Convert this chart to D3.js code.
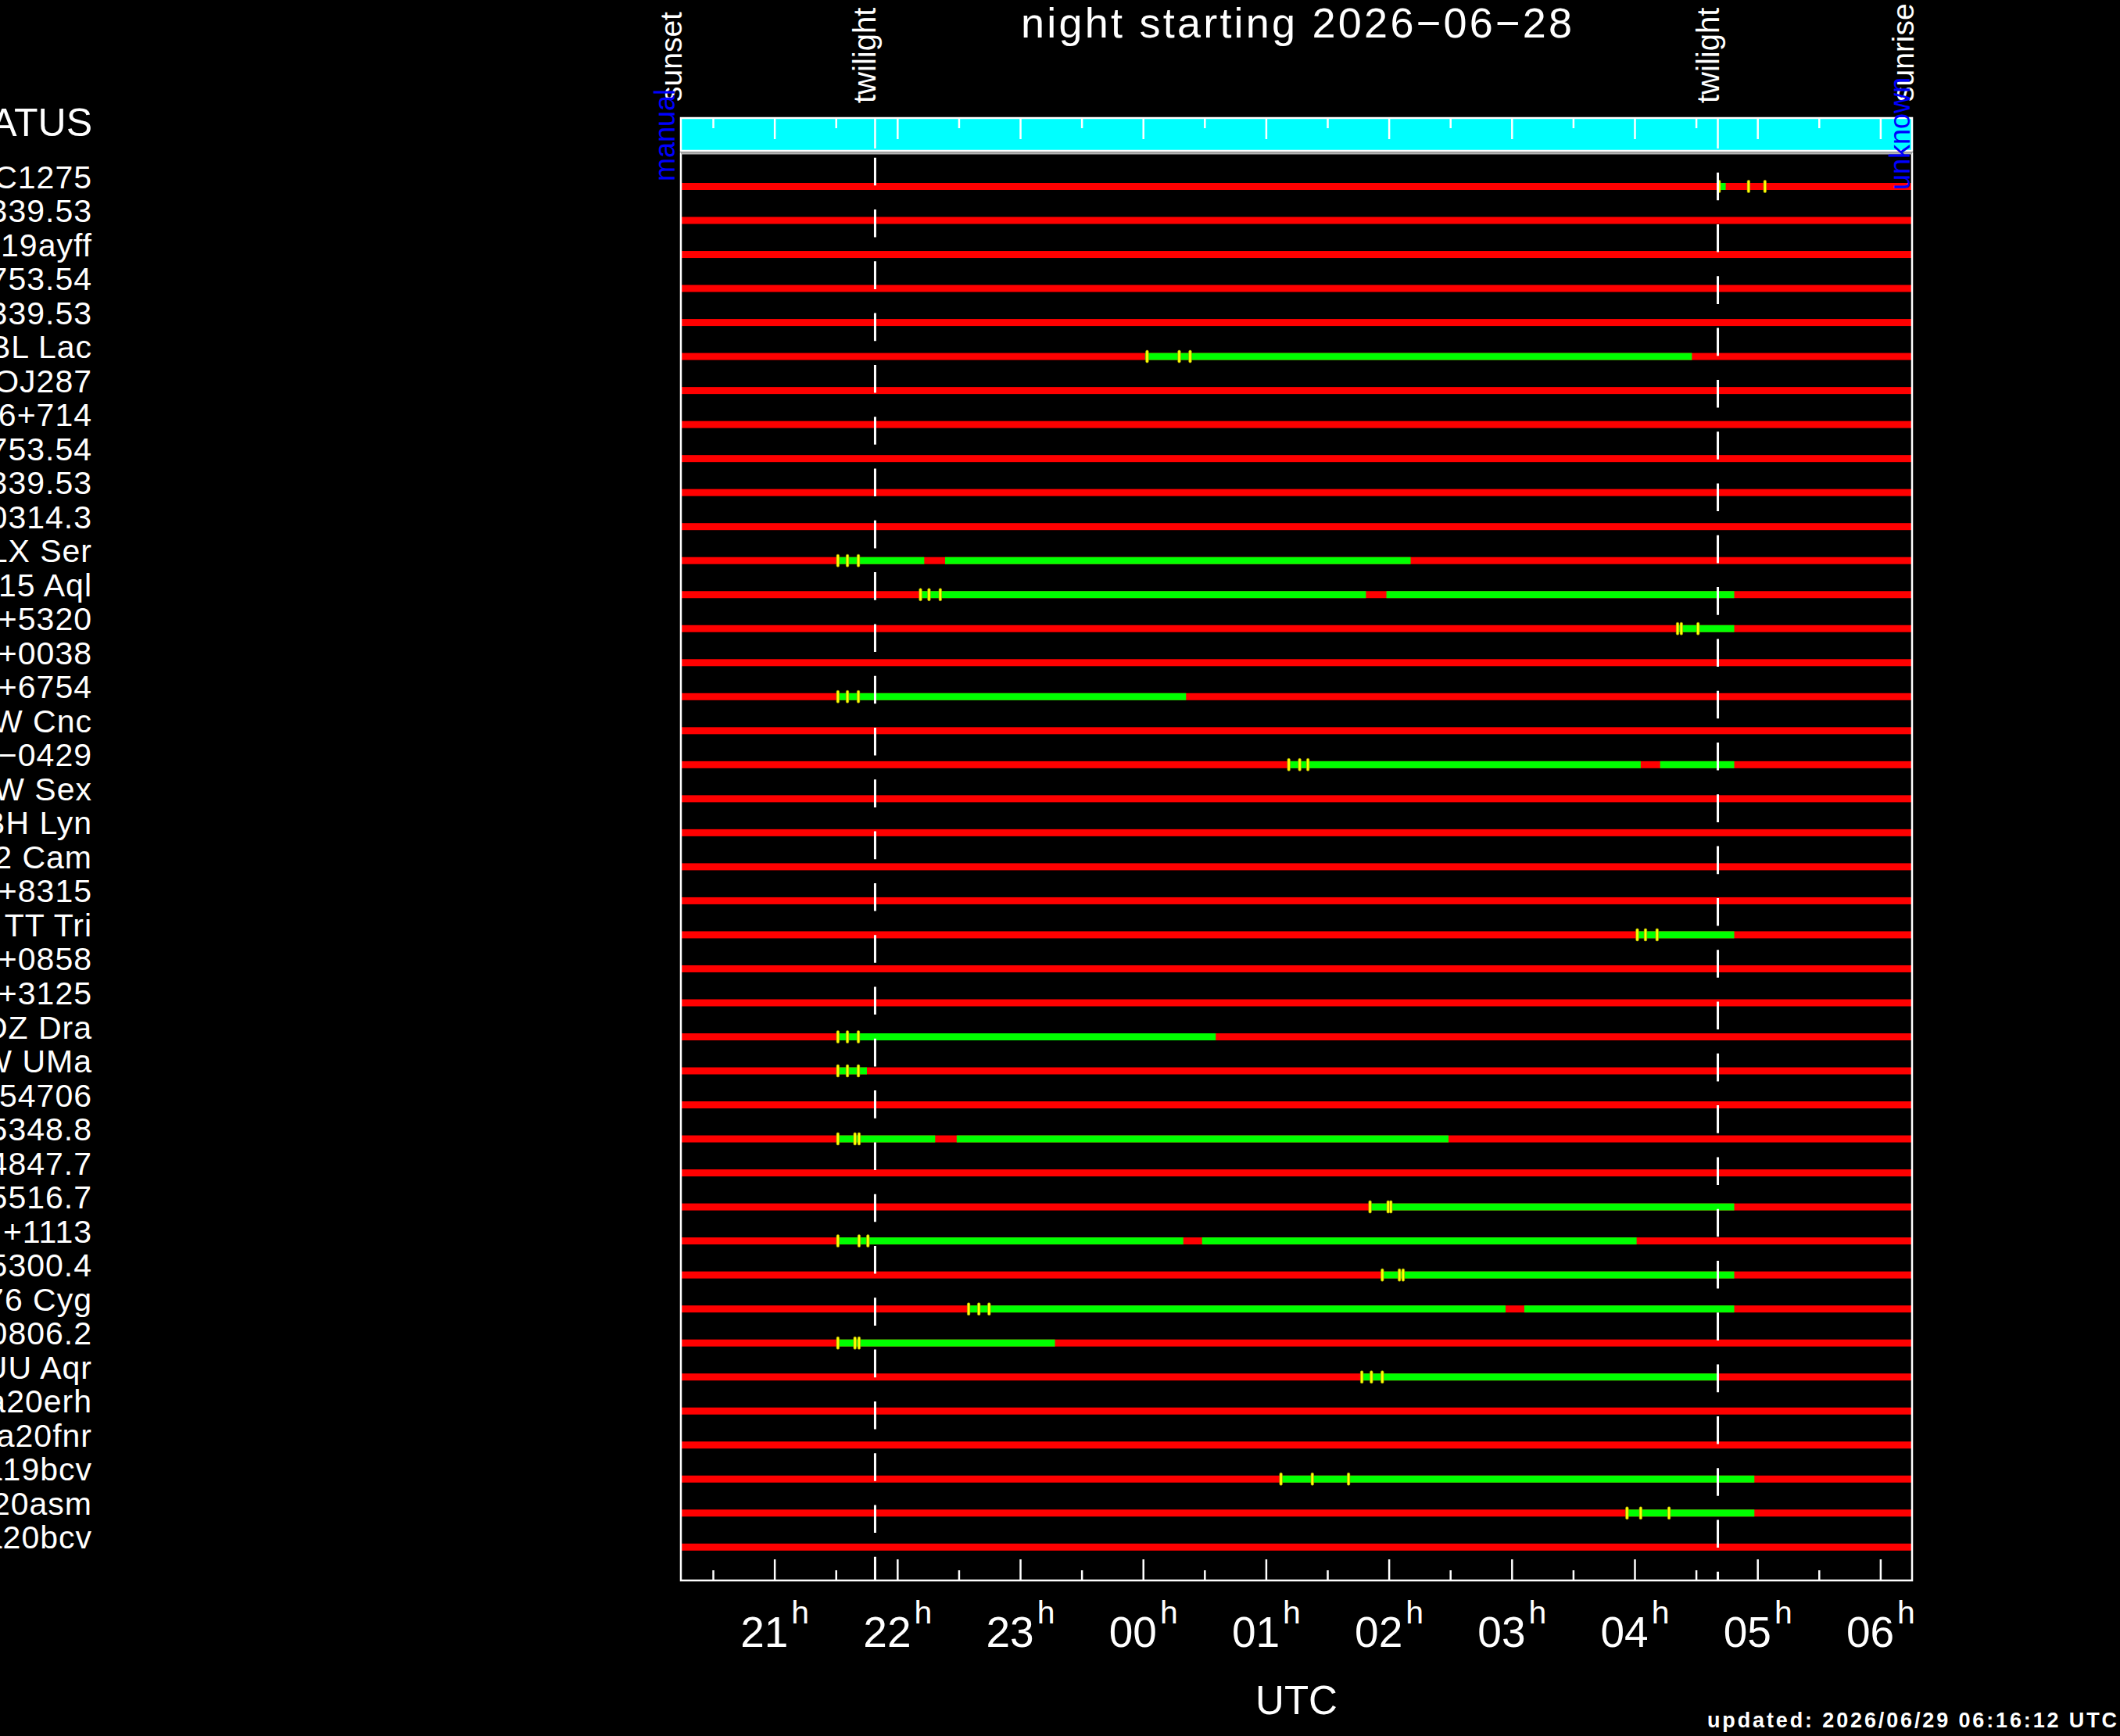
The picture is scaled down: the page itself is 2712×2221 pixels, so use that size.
<!DOCTYPE html>
<html>
<head>
<meta charset="utf-8">
<script src="https://cdn.jsdelivr.net/npm/d3@7"></script>
<style>
  body { margin: 0; background: #000; }
  svg text { font-family: "Liberation Sans", Arial, sans-serif; fill: #fff; }
</style>
</head>
<body>
<svg id="chart" width="2712" height="2221"></svg>
<script>
// night and sun times (UTC)
const nightStart = "2026-06-28";
const sunset = "20:14:20";
const sunrise = "06:15:30";
const twilights = ["21:49:10", "04:40:40"];
const updated = "updated: 2026/06/29 06:16:12 UTC";

// target names, as far as they show on the left edge
const targets = ["C1275", "339.53", "19ayff", "753.54", "339.53", "BL Lac", "OJ287", "6+714",
  "753.54", "339.53", "0314.3", "LX Ser", "15 Aql", "+5320", "+0038", "+6754", "W Cnc",
  "\u22120429", "W Sex", "BH Lyn", "2 Cam", "+8315", "TT Tri", "+0858", "+3125", "DZ Dra",
  "W UMa", "54706", "5348.8", "4847.7", "5516.7", "+1113", "5300.4", "76 Cyg", "0806.2",
  "UU Aqr", "a20erh", "a20fnr", "a19bcv", "20asm", "a20bcv"];

// observable windows (green) per target, [start, end]
const windows = [
  [["04:41:20", "04:44:30"]],                           // C1275
  [], [], [], [],
  [["00:01:00", "04:28:00"]],                           // BL Lac
  [], [], [], [], [],
  [["21:30:20", "22:13:10"], ["22:23:20", "02:10:40"]], // LX Ser
  [["22:11:00", "01:48:50"], ["01:58:50", "04:48:40"]], // 15 Aql
  [["04:20:40", "04:48:40"]],                           // +5320
  [],
  [["21:30:20", "00:21:00"]],                           // +6754
  [],
  [["01:10:30", "04:03:00"], ["04:12:30", "04:48:40"]], // -0429
  [], [], [], [],
  [["04:01:00", "04:48:40"]],                           // TT Tri
  [], [],
  [["21:30:20", "00:35:30"]],                           // DZ Dra
  [["21:30:20", "21:45:10"]],                           // W UMa
  [],
  [["21:30:20", "22:18:30"], ["22:29:00", "02:29:10"]], // 5348.8
  [],
  [["01:50:50", "04:48:40"]],                           // 5516.7
  [["21:30:20", "00:19:40"], ["00:28:50", "04:01:00"]], // +1113
  [["01:56:50", "04:48:40"]],                           // 5300.4
  [["22:34:50", "02:57:00"], ["03:06:10", "04:48:40"]], // 76 Cyg
  [["21:30:20", "23:17:00"]],                           // 0806.2
  [["01:46:40", "04:40:40"]],                           // UU Aqr
  [], [],
  [["01:06:40", "04:58:30"]],                           // a19bcv
  [["03:55:40", "04:58:30"]],                           // 20asm
  []
];

// yellow marks per target
const marks = [
  ["04:41:20", "04:55:40", "05:03:40"],
  [], [], [], [],
  ["00:02:00", "00:17:40", "00:23:00"],
  [], [], [], [], [],
  ["21:31:00", "21:35:40", "21:41:00"],
  ["22:11:20", "22:15:30", "22:21:00"],
  ["04:21:00", "04:22:50", "04:31:00"],
  [],
  ["21:31:00", "21:35:40", "21:41:00"],
  [],
  ["01:11:10", "01:16:30", "01:20:30"],
  [], [], [], [],
  ["04:01:20", "04:05:20", "04:11:00"],
  [], [],
  ["21:31:00", "21:35:40", "21:41:00"],
  ["21:31:00", "21:35:40", "21:41:00"],
  [],
  ["21:31:00", "21:39:20", "21:41:20"],
  [],
  ["01:50:50", "01:59:40", "02:01:00"],
  ["21:31:00", "21:41:20", "21:45:40"],
  ["01:56:50", "02:05:10", "02:07:00"],
  ["22:34:50", "22:39:50", "22:44:50"],
  ["21:31:00", "21:39:20", "21:41:20"],
  ["01:46:50", "01:51:30", "01:56:50"],
  [], [],
  ["01:07:20", "01:22:40", "01:40:20"],
  ["03:56:20", "04:03:00", "04:16:50"],
  []
];

const plotLeft = 871, plotRight = 2446, plotTop = 196, plotBottom = 2022;
const bandTop = 151, bandBottom = 193;
const white = "#ffffff";

// times before noon belong to the next day
function toDate(t) {
    let p = t.split(":").map(Number);
    let d = new Date(nightStart + "T00:00:00Z");
    if (p[0] < 12) d = d3.utcDay.offset(d, 1);
    d.setUTCHours(p[0], p[1], p[2] || 0);
    return d;
}

const svg = d3.select("#chart");

let x = d3.scaleUtc()
    .domain([toDate(sunset), toDate(sunrise)])
    .range([plotLeft, plotRight]);
let y = d3.scalePoint()
    .domain(d3.range(targets.length))
    .range([238.5, 1979.3]);

let hours = x.ticks(d3.utcHour.every(1));
let halfHours = d3.utcMinute.every(30).range(x.domain()[0], x.domain()[1])
    .filter(d => d.getUTCMinutes() === 30);

// cyan band on top
svg.append("rect")
    .attr("x", plotLeft).attr("y", bandTop)
    .attr("width", plotRight - plotLeft).attr("height", bandBottom - bandTop)
    .attr("fill", "#00ffff")
    .attr("stroke", white).attr("stroke-width", 2.5);

function tickAxis(axis, values, size, yPos) {
    let g = svg.append("g")
        .attr("transform", `translate(0,${yPos})`)
        .call(axis(x).tickValues(values).tickSize(-size).tickFormat(""));
    g.select(".domain").remove();
    g.selectAll("line").attr("stroke", white).attr("stroke-width", 2.5);
    return g;
}
tickAxis(d3.axisTop, hours, 27, bandTop);
tickAxis(d3.axisTop, halfHours, 13, bandTop);

svg.selectAll(".bandTwilight")
    .data(twilights)
    .join("line")
    .attr("class", "bandTwilight")
    .attr("x1", d => x(toDate(d))).attr("x2", d => x(toDate(d)))
    .attr("y1", bandTop).attr("y2", bandBottom - 3)
    .attr("stroke", white).attr("stroke-width", 2.5);

// rows: red base, green windows, yellow marks
let rows = svg.selectAll(".row")
    .data(targets)
    .join("g")
    .attr("class", "row")
    .attr("transform", (d, i) => `translate(0,${y(i)})`);

rows.append("rect")
    .attr("x", plotLeft + 1).attr("y", -4.5)
    .attr("width", plotRight - plotLeft - 1).attr("height", 9)
    .attr("fill", "#ff0000");

rows.selectAll(".win")
    .data((d, i) => windows[i])
    .join("rect")
    .attr("class", "win")
    .attr("x", d => x(toDate(d[0])))
    .attr("y", -4.5)
    .attr("width", d => x(toDate(d[1])) - x(toDate(d[0])))
    .attr("height", 9)
    .attr("fill", "#00ff00");

rows.selectAll(".mark")
    .data((d, i) => marks[i])
    .join("rect")
    .attr("class", "mark")
    .attr("x", d => x(toDate(d)) - 1.75)
    .attr("y", -8)
    .attr("width", 3.5).attr("height", 16)
    .attr("rx", 1.5)
    .attr("fill", "#ffff00")
    .attr("stroke", "#9a9a00").attr("stroke-width", 0.6);

rows.append("text")
    .attr("x", 118).attr("y", 2)
    .attr("text-anchor", "end")
    .style("font-size", "41px")
    .style("letter-spacing", "1px")
    .text(d => d);

// dashed twilight lines
svg.selectAll(".twilight")
    .data(twilights)
    .join("line")
    .attr("class", "twilight")
    .attr("x1", d => x(toDate(d))).attr("x2", d => x(toDate(d)))
    .attr("y1", plotTop).attr("y2", plotBottom)
    .attr("stroke", white).attr("stroke-width", 3)
    .attr("stroke-dasharray", "35.6 30.7")
    .attr("stroke-dashoffset", (d, i) => i === 0 ? 60.6 : 41.6);

// frame
svg.append("rect")
    .attr("x", plotLeft).attr("y", plotTop)
    .attr("width", plotRight - plotLeft).attr("height", plotBottom - plotTop)
    .attr("fill", "none")
    .attr("stroke", white).attr("stroke-width", 2.5);
svg.append("line")
    .attr("x1", plotLeft).attr("x2", plotRight)
    .attr("y1", plotTop).attr("y2", plotTop)
    .attr("stroke", "#b4b4b4").attr("stroke-width", 2.5);

// bottom time axis
let hourAxis = tickAxis(d3.axisBottom, hours, 27, plotBottom);
hourAxis.selectAll("text").remove();
hourAxis.selectAll(".tick")
    .append("text")
    .attr("y", 85)
    .attr("text-anchor", "middle")
    .style("font-size", "55px")
    .text(d => d3.utcFormat("%H")(d))
    .append("tspan")
    .attr("dx", 4).attr("dy", -30)
    .style("font-size", "41px")
    .text("h");
tickAxis(d3.axisBottom, halfHours, 13, plotBottom);

// rotated labels over the band
function rotLabel(text, px, py, size, color) {
    svg.append("text")
        .attr("transform", `translate(${px},${py}) rotate(-90)`)
        .attr("text-anchor", "start")
        .style("font-size", size + "px")
        .style("fill", color)
        .text(text);
}
rotLabel("sunset", x(toDate(sunset)) + 1, 130, 39, white);
rotLabel("twilight", x(toDate(twilights[0])) + 1, 132, 40, white);
rotLabel("twilight", x(toDate(twilights[1])) + 1.5, 132, 40, white);
rotLabel("sunrise", x(toDate(sunrise)) + 2, 130, 39, white);
rotLabel("manual", plotLeft - 8, 232, 36, "#0000ff");
rotLabel("unknown", plotRight - 3, 243, 36, "#0000ff");

// titles
svg.append("text")
    .attr("x", 118).attr("y", 174)
    .attr("text-anchor", "end")
    .style("font-size", "50px")
    .text("STATUS");

svg.append("text")
    .attr("x", (plotLeft + plotRight) / 2).attr("y", 48)
    .attr("text-anchor", "middle")
    .attr("textLength", 705).attr("lengthAdjust", "spacing")
    .style("font-size", "54px")
    .text("night starting " + nightStart.replace(/-/g, "\u2212"));

svg.append("text")
    .attr("x", (plotLeft + plotRight) / 2).attr("y", 2193)
    .attr("text-anchor", "middle")
    .style("font-size", "51px")
    .text("UTC");

svg.append("text")
    .attr("x", 2184).attr("y", 2210)
    .attr("textLength", 524).attr("lengthAdjust", "spacing")
    .style("font-size", "27px")
    .style("font-weight", "bold")
    .text(updated);
</script>
</body>
</html>
